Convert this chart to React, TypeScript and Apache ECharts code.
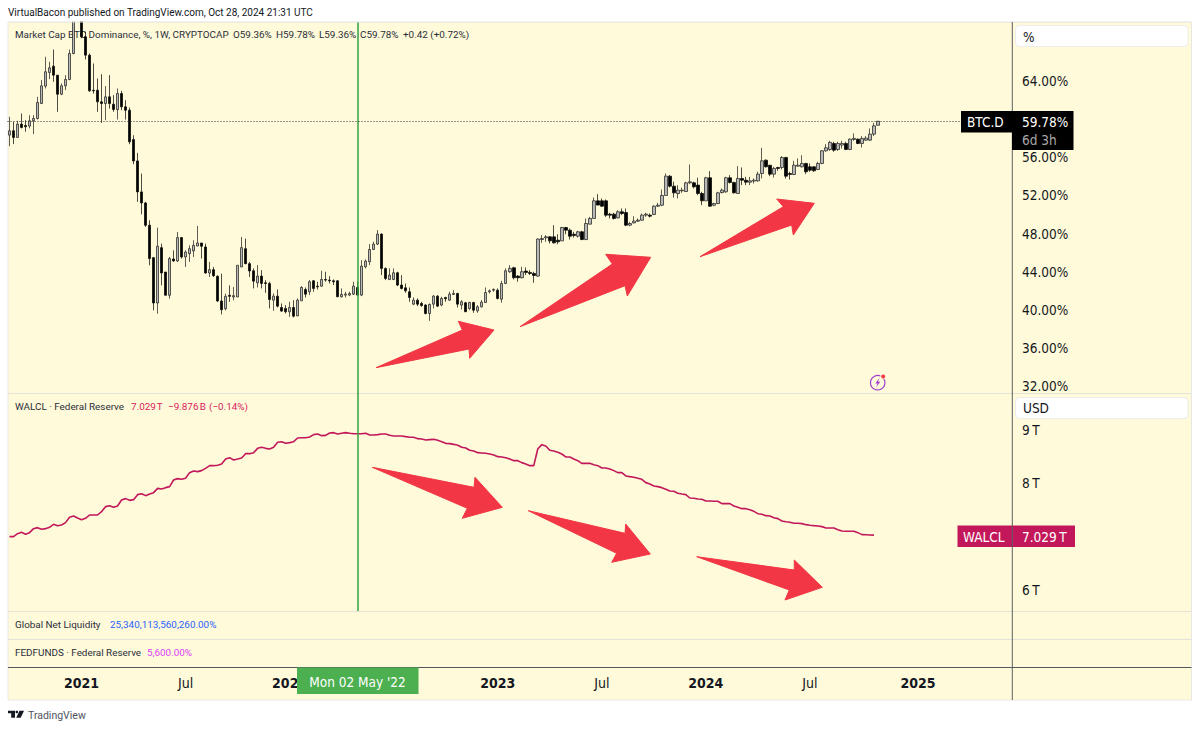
import React, { useEffect, useRef } from "react";
import * as echarts from "echarts";

const opens = [
58.33,58.78,58.08,59.48,59.34,59.27,59.83,60.07,61.65,63.47,
64.9,65.56,64.62,62.62,63.5,64.16,66.89,70.6,71.9,68.64,
66.72,63.04,63.04,61.82,61.64,62.34,61.57,61.01,62.69,61.29,
60.94,57.86,55.62,52.37,51.21,48.87,45.47,40.71,46.52,43.96,
41.52,45.33,45.12,47.57,45.54,45.89,46.17,46.69,47.01,46.59,
43.86,44.21,43.51,40.92,40.11,41.52,41.34,41.34,44.49,46.41,
44.84,44.09,42.83,43.53,42.83,42.76,41.01,41.43,40.24,40.14,
39.79,40.24,39.36,40.94,42.13,41.89,43.04,42.48,42.48,43.18,
43.11,43.04,43.04,41.36,41.54,41.54,41.64,42.34,41.54,44.51,
45.04,46.33,46.89,47.94,44.34,43.18,43.18,43.88,42.59,42.3,
41.89,40.59,41.01,40.66,40.49,39.61,40.59,41.43,40.49,41.29,
41.01,41.61,41.71,40.49,40.73,40.14,40.76,39.89,40.31,40.76,
41.89,42.06,42.06,41.11,42.76,43.99,44.41,43.53,43.36,44.06,
43.92,43.81,43.53,47.37,47.55,47.65,47.65,47.3,47.23,48.63,
48.35,47.93,47.72,48.18,47.37,48.98,49.58,51.43,51.43,51.43,
50.03,50.03,49.65,50.28,50.2,48.88,49.12,49.3,49.4,49.93,
49.93,50.0,50.87,50.97,51.99,54.02,52.97,52.2,52.48,52.41,
53.32,53.32,53.08,52.2,51.43,53.85,50.97,51.15,52.3,52.38,
53.85,53.36,52.2,53.78,53.6,53.39,53.5,53.53,54.3,55.7,
55.17,54.23,54.93,54.93,55.98,54.3,54.2,55.07,55.0,55.35,
55.0,55.0,54.72,55.35,56.68,56.82,57.45,56.82,57.28,57.45,
56.82,57.87,57.9,57.45,57.8,57.8,58.43,59.36];

const closes = [
58.78,58.08,59.48,59.13,59.2,59.83,60.07,61.75,63.5,64.97,
65.39,64.62,62.62,63.5,64.16,66.89,70.6,71.9,68.64,66.72,
62.97,62.97,61.82,61.64,62.34,61.64,61.01,62.69,61.29,60.94,
57.62,55.62,52.37,51.21,48.87,45.37,40.71,46.66,43.86,41.52,
45.37,45.12,47.57,45.54,46.06,46.41,46.76,47.01,46.66,43.86,
44.21,43.58,40.92,40.01,41.41,41.41,41.48,44.67,46.52,44.84,
44.07,43.0,43.53,42.76,42.76,41.08,41.43,40.38,39.86,39.79,
40.24,39.33,41.01,42.34,41.64,42.94,42.24,42.41,43.18,43.11,
43.04,42.94,41.36,41.61,41.64,41.71,42.48,41.54,44.58,45.11,
46.33,46.89,47.94,44.34,43.29,43.64,43.88,42.59,42.24,41.99,
41.29,41.01,40.59,40.45,39.61,40.56,41.43,40.38,41.19,41.15,
41.64,41.71,40.59,40.84,39.79,40.76,39.96,40.31,40.8,41.81,
41.99,42.13,41.19,42.76,44.09,44.34,43.36,43.36,43.99,43.92,
43.81,43.6,47.42,47.48,47.65,47.23,47.02,47.13,48.63,48.35,
47.72,47.79,48.18,47.37,49.05,49.58,51.43,50.98,50.87,49.93,
49.93,49.58,50.28,50.1,48.88,49.05,49.3,49.4,49.93,50.03,
49.82,50.87,50.97,51.99,54.02,52.97,52.27,52.55,52.55,53.32,
53.43,52.9,52.2,51.43,53.85,50.87,51.15,52.27,52.55,53.85,
53.36,52.27,53.78,53.6,53.39,53.53,53.6,54.23,55.63,55.0,
54.23,54.83,54.83,55.98,54.02,54.2,55.17,55.17,55.35,54.48,
54.65,54.58,55.35,56.68,56.99,57.56,56.75,57.45,57.45,56.82,
57.9,57.98,57.45,57.98,58.01,58.43,59.3,59.78];

const lows = [
57.17,57.38,58.08,59.03,58.68,59.03,58.43,59.97,61.58,63.22,
64.2,63.92,60.77,62.52,63.05,64.09,66.82,70.3,68.5,66.26,
62.87,62.69,60.77,59.61,59.89,61.11,60.77,59.96,60.94,59.96,
57.37,55.27,51.32,50.02,48.69,44.67,39.94,39.59,42.56,41.52,
41.17,45.02,45.02,45.37,44.49,45.02,45.54,46.66,45.37,43.79,
43.44,43.44,40.82,39.52,39.94,40.82,40.99,41.34,44.49,44.77,
43.44,42.24,42.34,42.24,41.78,40.14,39.89,40.24,39.79,39.61,
39.26,39.19,39.33,40.94,41.29,41.54,41.89,42.13,42.41,42.94,
42.76,42.59,41.36,41.29,41.29,41.43,41.54,41.54,41.43,44.34,
44.69,46.26,46.79,43.64,43.11,43.11,43.11,42.48,42.13,41.78,
40.84,40.49,40.38,40.31,39.51,38.84,40.14,40.31,40.38,40.84,
40.94,41.54,40.24,40.03,39.79,39.96,39.68,39.68,40.24,40.73,
41.71,41.89,41.08,40.73,42.69,43.88,43.18,42.94,43.29,43.64,
43.64,42.83,43.46,47.02,47.13,46.95,46.95,46.88,47.23,47.93,
47.37,47.58,47.58,47.3,47.3,48.98,49.58,50.98,50.8,49.75,
49.58,49.47,49.58,49.93,48.77,48.77,49.05,49.22,49.33,49.75,
49.68,49.93,50.8,50.87,51.99,52.83,51.78,51.68,52.27,52.38,
53.18,52.73,52.03,50.98,51.43,50.8,50.87,51.08,52.2,52.27,
53.25,52.2,52.2,53.08,53.08,53.08,53.25,53.43,53.78,54.93,
54.02,53.88,54.58,54.72,53.78,53.67,54.13,55.0,54.93,54.23,
54.48,54.48,54.65,55.28,56.58,56.68,56.58,56.68,56.92,56.75,
56.75,57.73,57.38,57.03,57.73,57.73,58.22,59.36];

const highs = [
60.25,59.73,59.83,60.6,59.9,60.42,60.42,62.35,64.1,66.55,
66.02,67.31,64.62,63.75,64.62,67.31,71.5,73.0,73.6,69.17,
66.89,65.84,64.27,64.72,63.47,64.62,62.52,63.22,62.97,61.99,
61.22,58.31,56.46,54.29,51.31,49.39,45.54,48.62,46.94,43.96,
45.54,46.24,48.16,47.64,46.24,46.76,47.29,48.79,47.01,46.94,
45.02,44.49,43.62,43.79,41.69,42.56,42.39,44.67,47.64,47.47,
45.02,44.34,44.69,44.16,43.11,42.94,41.71,42.13,40.66,40.49,
40.84,41.01,41.19,42.48,42.34,43.11,43.11,42.94,44.09,43.99,
43.53,43.18,43.11,42.24,41.89,41.89,42.94,42.94,45.21,45.28,
46.89,47.14,48.36,48.01,44.44,44.34,44.34,43.99,43.64,42.76,
42.34,41.29,41.19,40.84,40.59,40.66,41.54,41.54,41.36,41.36,
41.89,42.06,41.78,41.01,40.84,40.84,40.84,40.49,41.01,42.34,
42.13,42.24,42.24,43.04,44.34,44.69,44.51,43.64,44.51,44.44,
44.16,43.99,47.49,47.83,47.83,47.72,48.88,47.93,48.7,48.7,
48.53,48.18,48.28,48.28,49.58,49.75,51.78,52.13,51.68,51.57,
50.17,50.17,50.45,50.63,50.63,49.22,49.82,49.58,50.1,50.17,
50.1,50.97,51.22,52.62,54.3,54.13,53.43,53.08,52.83,53.43,
55.25,53.43,53.85,52.38,53.95,54.55,51.22,52.38,52.73,53.95,
54.13,53.43,55.07,54.93,53.95,53.95,53.78,54.48,56.99,55.77,
55.17,55.0,55.0,56.12,56.05,54.48,55.63,55.88,56.22,55.42,
55.35,55.07,55.52,56.75,57.38,57.73,57.63,57.63,57.73,57.63,
57.98,58.5,57.98,58.22,58.22,59.03,59.62,59.78];

const walcl = [
7.0,7.0,7.056,7.081,7.044,7.075,7.15,7.169,7.138,7.15,
7.175,7.231,7.206,7.219,7.263,7.363,7.388,7.35,7.319,7.344,
7.406,7.406,7.406,7.469,7.563,7.581,7.55,7.575,7.688,7.713,
7.681,7.694,7.788,7.806,7.769,7.8,7.825,7.906,7.894,7.919,
7.938,8.063,8.088,8.075,8.094,8.2,8.231,8.219,8.238,8.281,
8.331,8.331,8.338,8.363,8.456,8.481,8.438,8.456,8.475,8.556,
8.556,8.575,8.656,8.675,8.656,8.644,8.675,8.769,8.781,8.75,
8.763,8.781,8.85,8.856,8.856,8.869,8.913,8.925,8.894,8.9,
8.944,8.95,8.925,8.938,8.95,8.938,8.931,8.931,8.931,8.938,
8.906,8.906,8.913,8.925,8.925,8.9,8.888,8.888,
8.888,8.875,8.863,8.863,8.838,8.831,8.813,8.819,8.825,8.806,
8.781,8.75,8.744,8.731,8.713,8.675,8.663,8.619,8.606,8.575,
8.569,8.563,8.55,8.531,8.5,8.494,8.481,8.456,8.425,8.425,
8.388,8.363,8.331,8.331,8.644,8.725,8.7,8.619,8.606,8.581,
8.55,8.494,8.494,8.456,8.425,8.375,8.375,8.375,8.35,8.331,
8.288,8.288,8.269,8.238,8.2,8.2,8.138,8.125,8.113,8.094,
8.075,8.013,7.988,7.95,7.938,7.919,7.888,7.856,7.85,7.813,
7.8,7.788,7.725,7.719,7.706,7.7,7.669,7.669,7.663,7.663,
7.619,7.619,7.619,7.575,7.55,7.525,7.525,7.506,7.475,7.431,
7.419,7.394,7.388,7.356,7.338,7.294,7.281,7.269,7.25,7.25,
7.244,7.225,7.213,7.206,7.2,7.188,7.163,7.163,7.163,7.131,
7.106,7.1,7.1,7.1,7.075,7.038,7.035,7.032,7.029];

const priceTicks = [32, 36, 40, 44, 48, 52, 56, 64];
const walclTicks = [6, 8, 9];
const timeTicks: Record<string, { text: string; year: boolean }> = {
  "2021-01-04": { text: "2021", year: true },
  "2021-07-05": { text: "Jul", year: false },
  "2022-01-03": { text: "2022", year: true },
  "2023-01-02": { text: "2023", year: true },
  "2023-07-03": { text: "Jul", year: false },
  "2024-01-01": { text: "2024", year: true },
  "2024-07-01": { text: "Jul", year: false },
  "2025-01-06": { text: "2025", year: true },
};
const markedWeek = "2022-05-02";
const lastPrice = 59.78;
const weekCount = 251;

const firstWeek = Date.UTC(2020, 7, 31);
const weeks: string[] = [];
for (let i = 0; i < weekCount; i++) {
  weeks.push(new Date(firstWeek + i * 7 * 864e5).toISOString().slice(0, 10));
}

const FONT = "'DejaVu Sans Condensed', 'Noto Sans', sans-serif";
const SMALL = "Roboto, 'Noto Sans', sans-serif";
const BG = "#FFFAD9";
const INK = "#131722";
const RED = "#F23645";
const CRIMSON = "#C2185B";
const LEGEND = "#2A2E39";
const GREEN = "#35A043";

const arrows = [
  [[376, 367.7], [462.3, 330], [458.3, 321.3], [494, 330], [469.7, 358.3], [469, 349]],
  [[520, 326.7], [612.3, 264], [605.7, 254.3], [650.7, 257.3], [627.3, 296], [625, 285.7]],
  [[700, 256.7], [783.3, 206.7], [776.7, 199], [814.3, 203.3], [793.3, 235], [791.7, 225]],
  [[372.3, 467.3], [474, 487.3], [475, 477.3], [502.3, 507.3], [462.3, 518.3], [467.3, 508.3]],
  [[528.3, 510.7], [625, 533.3], [625.7, 524], [650.3, 554], [611.7, 562.3], [616.7, 553.3]],
  [[696.7, 556.7], [794.3, 570], [794.3, 560], [822.3, 587.3], [785, 600], [789.3, 590]],
];

const txt = (text: string, x: number, y: number, fill = INK, size = 9.9, extra: any = {}) => ({
  type: "text",
  z: extra.z ?? 1,
  silent: true,
  style: { text, x, y, fill, font: `normal ${size}px ${size < 11 ? SMALL : FONT}`, textVerticalAlign: "middle", textAlign: extra.align ?? "left" },
});
const box = (x: number, y: number, w: number, h: number, fill: string, z = 90, extra: any = {}) => ({
  type: "rect",
  z,
  silent: true,
  shape: { x, y, width: w, height: h, r: extra.r ?? 0 },
  style: { fill, stroke: extra.stroke ?? "none", lineWidth: extra.stroke ? 1 : 0 },
});
const hline = (y: number, color: string, x1 = 8, x2 = 1191.5, z = 3) => ({
  type: "line", z, silent: true,
  shape: { x1, y1: y, x2, y2: y },
  style: { stroke: color, lineWidth: 1 },
});

const graphics: any[] = [
  box(8, 22, 1183.5, 678, BG, -10, { stroke: "#E8E8E2" }),
  box(0, 0, 1200, 21.5, "#FFFFFF", 30),
  hline(22, "#E8E8E2", 8, 1191.5, 31),
  hline(393.5, "#E3E3DA"),
  hline(611.5, "#E3E3DA"),
  hline(639.5, "#E3E3DA"),
  hline(667.5, "#55575C"),
  { type: "line", z: 60, silent: true, shape: { x1: 1012.3, y1: 22, x2: 1012.3, y2: 700 }, style: { stroke: "#5D6066", lineWidth: 1 } },
  txt("VirtualBacon published on TradingView.com, Oct 28, 2024 21:31 UTC", 8, 12, INK, 10, { z: 31 }),
  txt("Market Cap BTC Dominance, %, 1W, CRYPTOCAP", 15, 34, LEGEND),
  txt("O59.36%", 233, 34, LEGEND),
  txt("H59.78%", 276, 34, LEGEND),
  txt("L59.36%", 319, 34, LEGEND),
  txt("C59.78%", 360, 34, LEGEND),
  txt("+0.42 (+0.72%)", 403, 34, LEGEND),
  txt("WALCL · Federal Reserve", 15, 406, LEGEND),
  txt("7.029\u202fT", 131, 406, "#D81B60"),
  txt("−9.876\u202fB", 168, 406, "#D81B60"),
  txt("(−0.14%)", 209, 406, "#D81B60"),
  txt("Global Net Liquidity", 15, 624, LEGEND),
  txt("25,340,113,560,260.00%", 110, 624, "#2962FF"),
  txt("FEDFUNDS · Federal Reserve", 15, 652, LEGEND),
  txt("5,600.00%", 147, 652, "#E040FB"),
  box(1015.5, 25.5, 172.5, 21, "#FFFFFF", 50, { r: 4, stroke: "#ECECEC" }),
  txt("%", 1023, 36.5, "#131722", 13.5, { z: 51 }),
  box(1015.5, 397.5, 172.5, 21, "#FFFFFF", 50, { r: 4, stroke: "#ECECEC" }),
  txt("USD", 1023, 408, "#131722", 13.5, { z: 51 }),
  box(961, 111, 51, 21.5, "#000000"),
  box(1012, 111, 61.5, 39, "#000000"),
  txt("BTC.D", 967, 122, "#FFFFFF", 13.5, { z: 91 }),
  txt("59.78%", 1022, 122, "#FFFFFF", 13.5, { z: 91 }),
  txt("6d 3h", 1022, 139.5, "#A8A8A8", 13.5, { z: 91 }),
  box(957.5, 525.5, 117.5, 21.5, CRIMSON),
  txt("WALCL", 963, 536.5, "#FFFFFF", 13.5, { z: 91 }),
  txt("7.029\u202fT", 1022, 536.5, "#FFFFFF", 13.5, { z: 91 }),
  { type: "line", z: 92, silent: true, shape: { x1: 1012.3, y1: 525.5, x2: 1012.3, y2: 547 }, style: { stroke: "#5D6066", lineWidth: 1 } },
  box(297, 667.5, 121.5, 26.5, "#4CAF50"),
  txt("Mon 02 May '22", 357.5, 681.5, "#FFFFFF", 13.5, { z: 91, align: "center" }),
  ...arrows.map((points) => ({
    type: "polygon", z: 40, silent: true,
    shape: { points },
    style: { fill: RED, stroke: RED, lineWidth: 1, lineJoin: "round" },
  })),
  { type: "circle", z: 40, silent: true, shape: { cx: 877.7, cy: 382.7, r: 7.2 }, style: { fill: "none", stroke: "#A43FD0", lineWidth: 1.2 } },
  { type: "polygon", z: 41, silent: true, shape: { points: [[879.5, 377.8], [875.3, 383.5], [877.6, 383.5], [876, 387.6], [880.3, 381.8], [878, 381.8]] }, style: { fill: "#A43FD0" } },
  { type: "circle", z: 41, silent: true, shape: { cx: 883.2, cy: 376.5, r: 3 }, style: { fill: BG } },
  { type: "circle", z: 42, silent: true, shape: { cx: 883.2, cy: 376.5, r: 2 }, style: { fill: RED } },
  { type: "polygon", z: 5, silent: true, shape: { points: [[8, 710.7], [15, 710.7], [15, 717.7], [11.2, 717.7], [11.2, 713.3], [8, 713.3]] }, style: { fill: INK } },
  { type: "circle", z: 5, silent: true, shape: { cx: 16.8, cy: 712, r: 1.3 }, style: { fill: INK } },
  { type: "polygon", z: 5, silent: true, shape: { points: [[19.5, 710.7], [24, 710.7], [20.7, 717.7], [16.2, 717.7]] }, style: { fill: INK } },
  txt("TradingView", 28, 715, "#50535E", 10.5),
];

const hiddenX = (gridIndex: number) => ({
  type: "category", gridIndex, data: weeks, show: false, boundaryGap: true,
});

export default function App() {
  const ref = useRef<HTMLDivElement>(null);
  useEffect(() => {
    const chart = echarts.init(ref.current!, undefined, { renderer: "svg" });
    chart.setOption({
      animation: false,
      backgroundColor: "#FFFFFF",
      textStyle: { fontFamily: FONT },
      grid: [
        { left: 7.5, width: 1004.5, top: 22, height: 371.3 },
        { left: 7.5, width: 1004.5, top: 393, height: 218 },
        { left: 7.5, width: 1004.5, top: 611, height: 56.5 },
      ],
      xAxis: [
        hiddenX(0),
        hiddenX(1),
        {
          type: "category", gridIndex: 2, data: weeks, boundaryGap: true,
          axisLine: { show: false },
          axisTick: { show: false },
          axisLabel: {
            margin: 8,
            hideOverlap: false,
            interval: (_: number, value: string) => value in timeTicks,
            formatter: (value: string) => {
              const t = timeTicks[value];
              if (!t) return "";
              return t.year ? `{y|${t.text}}` : `{m|${t.text}}`;
            },
            rich: {
              y: { fontFamily: FONT, fontSize: 14, fontWeight: "bold", color: INK },
              m: { fontFamily: FONT, fontSize: 14, color: INK },
            },
          },
        },
      ],
      yAxis: [
        {
          type: "value", gridIndex: 0, position: "right", min: 31.234, max: 70.196, scale: true,
          splitLine: { show: false }, axisLine: { show: false }, axisTick: { show: false },
          axisLabel: {
            customValues: priceTicks, margin: 10, fontFamily: FONT, fontSize: 13.5, color: INK,
            formatter: (v: number) => `${v.toFixed(2)}%`,
          },
        },
        {
          type: "value", gridIndex: 1, position: "right", min: 5.606, max: 9.6937, scale: true,
          splitLine: { show: false }, axisLine: { show: false }, axisTick: { show: false },
          axisLabel: {
            customValues: walclTicks, margin: 10, fontFamily: FONT, fontSize: 13.5, color: INK,
            formatter: (v: number) => `${v}\u202fT`,
          },
        },
        { type: "value", gridIndex: 2, show: false, min: 0, max: 1 },
      ],
      series: [
        {
          type: "candlestick", name: "BTC.D", xAxisIndex: 0, yAxisIndex: 0,
          barWidth: 3,
          clip: true,
          data: opens.map((o, i) => [o, closes[i], lows[i], highs[i]]),
          itemStyle: { color: "#B8B8B8", color0: "#000000", borderColor: "#1A1A1A", borderColor0: "#000000", borderWidth: 0.7 },
          markLine: {
            silent: true, symbol: "none", animation: false, label: { show: false },
            data: [
              { xAxis: markedWeek, lineStyle: { color: GREEN, width: 1.5, type: "solid" } },
              { yAxis: lastPrice, lineStyle: { color: "#2A2E38", width: 1, type: [1, 2] } },
            ],
          },
        },
        {
          type: "line", name: "WALCL", xAxisIndex: 1, yAxisIndex: 1,
          data: walcl, showSymbol: false, symbol: "none",
          lineStyle: { color: CRIMSON, width: 1.6 },
          markLine: {
            silent: true, symbol: "none", animation: false, label: { show: false },
            data: [{ xAxis: markedWeek, lineStyle: { color: GREEN, width: 1.5, type: "solid" } }],
          },
        },
      ],
      graphic: { elements: graphics },
    });
    return () => chart.dispose();
  }, []);
  return <div ref={ref} style={{ position: "fixed", left: 0, top: 0, width: 1200, height: 729 }} />;
}
